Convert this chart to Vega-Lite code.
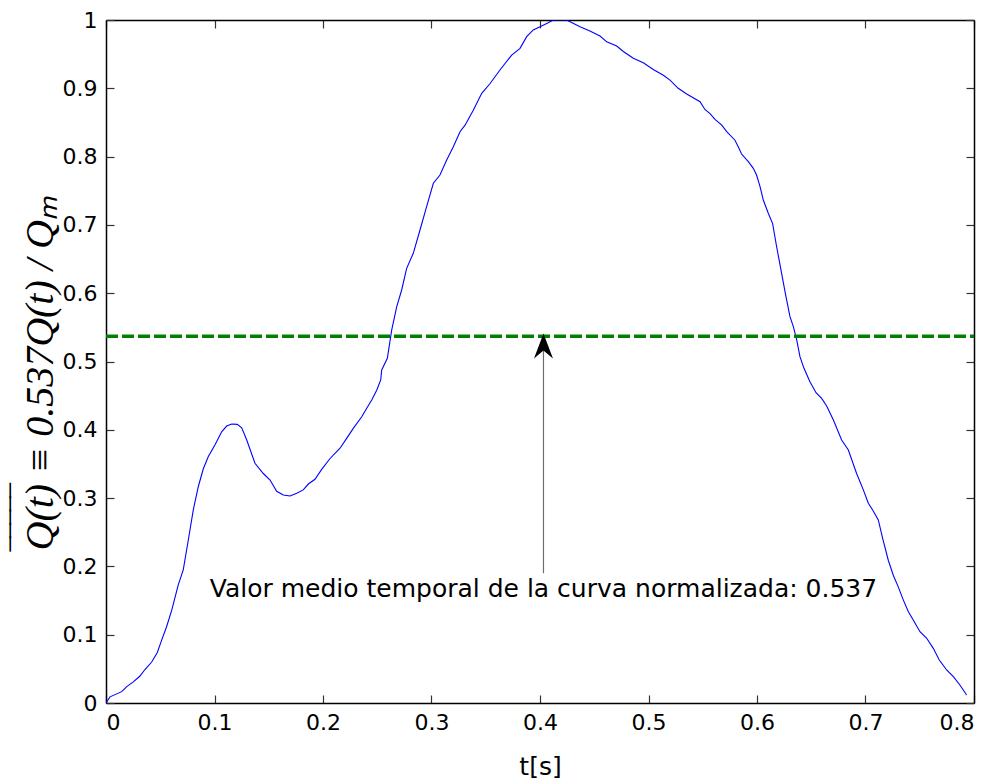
{
  "$schema": "https://vega.github.io/schema/vega-lite/v6.json",
  "width": 868,
  "height": 683,
  "autosize": {"type": "none"},
  "padding": {"left": 106, "top": 20, "right": 21, "bottom": 78},
  "background": "white",
  "config": {
    "view": {"stroke": null},
    "axis": {
      "grid": false,
      "domainColor": "#000000",
      "domainWidth": 1.5,
      "tickColor": "#333333",
      "tickWidth": 1.2,
      "tickSize": -8,
      "labelFont": "DejaVu Sans",
      "labelFontSize": 22,
      "labelColor": "#000000",
      "titleColor": "#000000"
    }
  },
  "datasets": {
    "curve": [
      {"t": 0, "q": 0},
      {"t": 0.0037, "q": 0.009},
      {"t": 0.0145, "q": 0.0166},
      {"t": 0.0191, "q": 0.024},
      {"t": 0.0252, "q": 0.031},
      {"t": 0.0313, "q": 0.0395},
      {"t": 0.0359, "q": 0.049},
      {"t": 0.0421, "q": 0.06},
      {"t": 0.0473, "q": 0.074},
      {"t": 0.0513, "q": 0.092},
      {"t": 0.0559, "q": 0.112},
      {"t": 0.0606, "q": 0.136},
      {"t": 0.0666, "q": 0.173},
      {"t": 0.0712, "q": 0.195},
      {"t": 0.0759, "q": 0.239},
      {"t": 0.0805, "q": 0.283},
      {"t": 0.0851, "q": 0.317},
      {"t": 0.0897, "q": 0.343},
      {"t": 0.0943, "q": 0.361},
      {"t": 0.1005, "q": 0.378},
      {"t": 0.1066, "q": 0.397},
      {"t": 0.1112, "q": 0.4055},
      {"t": 0.1159, "q": 0.4085},
      {"t": 0.121, "q": 0.408},
      {"t": 0.1251, "q": 0.403},
      {"t": 0.1297, "q": 0.385},
      {"t": 0.1373, "q": 0.351},
      {"t": 0.145, "q": 0.336},
      {"t": 0.1512, "q": 0.3265},
      {"t": 0.1573, "q": 0.31},
      {"t": 0.1634, "q": 0.3045},
      {"t": 0.1696, "q": 0.303},
      {"t": 0.1758, "q": 0.307},
      {"t": 0.1818, "q": 0.312},
      {"t": 0.1865, "q": 0.3206},
      {"t": 0.1926, "q": 0.3275},
      {"t": 0.1988, "q": 0.342},
      {"t": 0.2065, "q": 0.358},
      {"t": 0.2157, "q": 0.373},
      {"t": 0.2218, "q": 0.3875},
      {"t": 0.2279, "q": 0.402},
      {"t": 0.2357, "q": 0.419},
      {"t": 0.2403, "q": 0.4315},
      {"t": 0.2449, "q": 0.4436},
      {"t": 0.2495, "q": 0.458},
      {"t": 0.2532, "q": 0.473},
      {"t": 0.2541, "q": 0.4876},
      {"t": 0.2593, "q": 0.5047},
      {"t": 0.2633, "q": 0.546},
      {"t": 0.2679, "q": 0.58},
      {"t": 0.2725, "q": 0.6047},
      {"t": 0.2771, "q": 0.6364},
      {"t": 0.2832, "q": 0.6584},
      {"t": 0.2894, "q": 0.6925},
      {"t": 0.2955, "q": 0.7267},
      {"t": 0.3017, "q": 0.761},
      {"t": 0.3078, "q": 0.773},
      {"t": 0.314, "q": 0.795},
      {"t": 0.3201, "q": 0.8145},
      {"t": 0.3263, "q": 0.8365},
      {"t": 0.3309, "q": 0.846},
      {"t": 0.3385, "q": 0.868},
      {"t": 0.3463, "q": 0.8927},
      {"t": 0.354, "q": 0.907},
      {"t": 0.3631, "q": 0.9268},
      {"t": 0.3739, "q": 0.9487},
      {"t": 0.3816, "q": 0.9585},
      {"t": 0.3877, "q": 0.9756},
      {"t": 0.3938, "q": 0.9854},
      {"t": 0.4, "q": 0.99},
      {"t": 0.4062, "q": 0.995},
      {"t": 0.4123, "q": 1.0},
      {"t": 0.4245, "q": 1.0},
      {"t": 0.4369, "q": 0.99},
      {"t": 0.446, "q": 0.984},
      {"t": 0.4553, "q": 0.9766},
      {"t": 0.4615, "q": 0.968},
      {"t": 0.4707, "q": 0.962},
      {"t": 0.4768, "q": 0.9539},
      {"t": 0.486, "q": 0.944},
      {"t": 0.4952, "q": 0.9375},
      {"t": 0.5044, "q": 0.9275},
      {"t": 0.5137, "q": 0.919},
      {"t": 0.5198, "q": 0.912},
      {"t": 0.5274, "q": 0.9},
      {"t": 0.5352, "q": 0.8917},
      {"t": 0.5475, "q": 0.8804},
      {"t": 0.552, "q": 0.869},
      {"t": 0.5567, "q": 0.863},
      {"t": 0.5613, "q": 0.8546},
      {"t": 0.5675, "q": 0.846},
      {"t": 0.5721, "q": 0.8365},
      {"t": 0.5797, "q": 0.824},
      {"t": 0.5827, "q": 0.8145},
      {"t": 0.5858, "q": 0.8038},
      {"t": 0.592, "q": 0.7926},
      {"t": 0.5966, "q": 0.7828},
      {"t": 0.5996, "q": 0.773},
      {"t": 0.6028, "q": 0.756},
      {"t": 0.6058, "q": 0.7365},
      {"t": 0.6104, "q": 0.717},
      {"t": 0.6144, "q": 0.702},
      {"t": 0.6181, "q": 0.668},
      {"t": 0.6227, "q": 0.629},
      {"t": 0.6267, "q": 0.595},
      {"t": 0.6304, "q": 0.5656},
      {"t": 0.6335, "q": 0.551},
      {"t": 0.6366, "q": 0.5315},
      {"t": 0.6396, "q": 0.507},
      {"t": 0.6433, "q": 0.49},
      {"t": 0.6488, "q": 0.4704},
      {"t": 0.6544, "q": 0.4543},
      {"t": 0.6596, "q": 0.446},
      {"t": 0.6642, "q": 0.4348},
      {"t": 0.6704, "q": 0.4143},
      {"t": 0.678, "q": 0.385},
      {"t": 0.6842, "q": 0.3704},
      {"t": 0.6918, "q": 0.336},
      {"t": 0.698, "q": 0.312},
      {"t": 0.7026, "q": 0.2924},
      {"t": 0.7066, "q": 0.2826},
      {"t": 0.7118, "q": 0.268},
      {"t": 0.7158, "q": 0.241},
      {"t": 0.721, "q": 0.209},
      {"t": 0.7256, "q": 0.187},
      {"t": 0.7302, "q": 0.17},
      {"t": 0.7348, "q": 0.151},
      {"t": 0.7394, "q": 0.134},
      {"t": 0.744, "q": 0.1215},
      {"t": 0.7502, "q": 0.1044},
      {"t": 0.7564, "q": 0.0947},
      {"t": 0.7625, "q": 0.08},
      {"t": 0.768, "q": 0.063},
      {"t": 0.7748, "q": 0.0483},
      {"t": 0.781, "q": 0.0385},
      {"t": 0.787, "q": 0.0264},
      {"t": 0.7932, "q": 0.0117}
    ],
    "mean": [{"t0": 0, "t1": 0.8, "q": 0.537}],
    "arrow": [{"t": 0.4032, "q0": 0.19, "q1": 0.52, "tip": 0.541}],
    "note": [{"t": 0.4032, "q": 0.1552, "label": "Valor medio temporal de la curva normalizada: 0.537"}]
  },
  "resolve": {"axis": {"x": "independent", "y": "independent"}},
  "layer": [
    {
      "data": {"name": "curve"},
      "mark": {"type": "line", "color": "#0000ff", "strokeWidth": 1.1, "clip": true},
      "encoding": {
        "x": {
          "field": "t", "type": "quantitative",
          "scale": {"domain": [0, 0.8], "nice": false, "zero": false},
          "axis": {
            "orient": "bottom",
            "values": [0, 0.1, 0.2, 0.3, 0.4, 0.5, 0.6, 0.7, 0.8],
            "format": "~g",
            "labelPadding": 17,
            "labelBaseline": "top",
            "title": "t[s]",
            "titleFont": "DejaVu Sans",
            "titleFontSize": 25,
            "titleFontWeight": "normal",
            "titleBaseline": "alphabetic",
            "titleY": 71
          }
        },
        "y": {
          "field": "q", "type": "quantitative",
          "scale": {"domain": [0, 1], "nice": false, "zero": false},
          "axis": {
            "orient": "left",
            "values": [0, 0.1, 0.2, 0.3, 0.4, 0.5, 0.6, 0.7, 0.8, 0.9, 1],
            "format": "~g",
            "labelPadding": 17,
            "title": ["‾‾‾‾‾", "Q(t) ≡ 0.537Q(t) / Qₘ"],
            "titleFont": "Liberation Serif",
            "titleFontSize": 40,
            "titleFontStyle": "italic",
            "titleFontWeight": "normal",
            "titleLineHeight": 12,
            "titleAngle": -90,
            "titleAlign": "left",
            "titleBaseline": "alphabetic",
            "titleX": -66,
            "titleY": 530
          }
        }
      }
    },
    {
      "data": {"name": "mean"},
      "mark": {"type": "rule", "color": "#008000", "strokeWidth": 3.5, "strokeDash": [12, 4]},
      "encoding": {
        "x": {
          "field": "t0", "type": "quantitative",
          "axis": {"orient": "top", "values": [0, 0.1, 0.2, 0.3, 0.4, 0.5, 0.6, 0.7, 0.8], "labels": false, "title": null}
        },
        "x2": {"field": "t1"},
        "y": {
          "field": "q", "type": "quantitative",
          "axis": {"orient": "right", "values": [0, 0.1, 0.2, 0.3, 0.4, 0.5, 0.6, 0.7, 0.8, 0.9, 1], "labels": false, "title": null}
        }
      }
    },
    {
      "data": {"name": "arrow"},
      "mark": {"type": "rule", "color": "#6e6e6e", "strokeWidth": 1.2},
      "encoding": {
        "x": {"field": "t", "type": "quantitative", "axis": null},
        "y": {"field": "q0", "type": "quantitative", "axis": null},
        "y2": {"field": "q1"}
      }
    },
    {
      "data": {"name": "arrow"},
      "mark": {
        "type": "point",
        "shape": "M0,0L-0.38,1L0,0.68L0.38,1Z",
        "size": 2500,
        "filled": true,
        "color": "#000000",
        "opacity": 1
      },
      "encoding": {
        "x": {"field": "t", "type": "quantitative", "axis": null},
        "y": {"field": "tip", "type": "quantitative", "axis": null}
      }
    },
    {
      "data": {"name": "note"},
      "mark": {
        "type": "text",
        "font": "DejaVu Sans",
        "fontSize": 25,
        "color": "#000000",
        "align": "center",
        "baseline": "alphabetic"
      },
      "encoding": {
        "x": {"field": "t", "type": "quantitative", "axis": null},
        "y": {"field": "q", "type": "quantitative", "axis": null},
        "text": {"field": "label"}
      }
    }
  ]
}
